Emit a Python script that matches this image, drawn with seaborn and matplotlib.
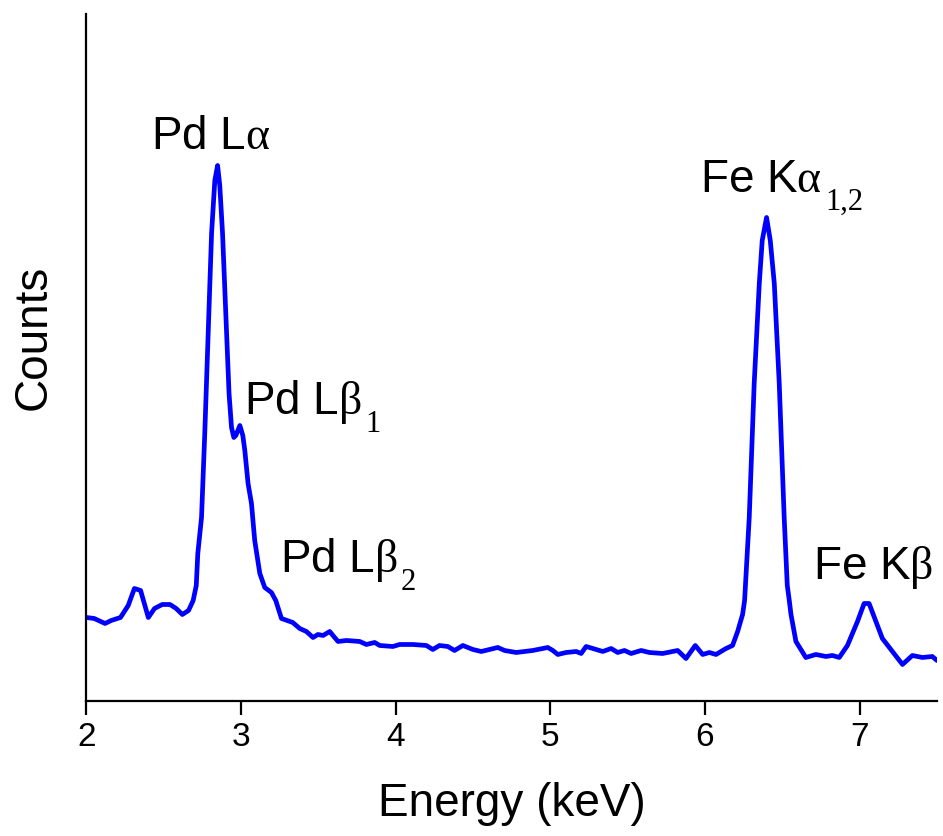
import matplotlib
matplotlib.use("Agg")
import matplotlib.pyplot as plt
import seaborn as sns
import pandas as pd

# EDS spectrum (energy in keV, counts in arbitrary units)
energy_kev = [
    2.00, 2.05, 2.12, 2.16, 2.22, 2.27, 2.31, 2.35, 2.40, 2.44,
    2.49, 2.54, 2.58, 2.62, 2.66, 2.69, 2.71, 2.72, 2.744, 2.765,
    2.787, 2.809, 2.83, 2.848, 2.862, 2.88, 2.906, 2.922, 2.938, 2.953,
    2.966, 2.992, 3.011, 3.024, 3.045, 3.067, 3.088, 3.121, 3.153, 3.196,
    3.224, 3.261, 3.334, 3.379, 3.422, 3.465, 3.497, 3.530, 3.573, 3.594,
    3.627, 3.681, 3.767, 3.810, 3.864, 3.896, 3.982, 4.025, 4.111, 4.198,
    4.240, 4.283, 4.337, 4.380, 4.434, 4.499, 4.553, 4.607, 4.660, 4.704,
    4.779, 4.886, 4.983, 5.016, 5.048, 5.102, 5.167, 5.199, 5.231, 5.274,
    5.339, 5.393, 5.435, 5.479, 5.522, 5.587, 5.640, 5.726, 5.823, 5.877,
    5.937, 5.985, 6.028, 6.071, 6.136, 6.178, 6.211, 6.243, 6.256, 6.286,
    6.318, 6.351, 6.37, 6.398, 6.422, 6.448, 6.48, 6.512, 6.532, 6.545,
    6.556, 6.588, 6.652, 6.717, 6.782, 6.824, 6.868, 6.921, 6.986, 7.029,
    7.061, 7.105, 7.147, 7.212, 7.277, 7.341, 7.406, 7.470, 7.50,
]
counts = [
    84, 83, 78, 81, 84, 96, 113, 111, 84, 93,
    97, 97, 93, 87, 91, 101, 116, 148, 184, 268,
    368, 468, 521, 536, 516, 468, 368, 308, 274, 264,
    266, 276, 266, 251, 218, 198, 161, 128, 114, 109,
    101, 83, 79, 73, 70, 64, 67, 66, 70, 66,
    60, 61, 60, 57, 59, 56, 55, 57, 57, 56,
    52, 56, 55, 51, 56, 52, 50, 52, 54, 51,
    49, 51, 54, 51, 47, 49, 50, 48, 55, 53,
    50, 53, 49, 51, 48, 51, 49, 48, 51, 43,
    56, 47, 49, 47, 53, 56, 70, 87, 101, 184,
    318, 418, 461, 484, 461, 418, 318, 184, 116, 101,
    87, 60, 44, 47, 45, 46, 44, 56, 80, 98,
    98, 80, 63, 50, 37, 46, 44, 45, 41,
]

# Peak annotations: main label, subscript, energy and counts of the baseline
peak_labels = [r"Pd L$\mathrm{\alpha}$", r"Pd L$\mathrm{\beta}$",
               r"Pd L$\mathrm{\beta}$", r"Fe K$\mathrm{\alpha}$",
               r"Fe K$\mathrm{\beta}$"]
peak_subscripts = ["", "1", "2", "1,2", ""]
label_energy = [2.42, 3.02, 3.25, 5.965, 6.70]
label_counts = [552, 287, 129, 509, 122]

x_ticks = [2, 3, 4, 5, 6, 7]

sns.set_style("ticks")
plt.rcParams["font.family"] = ["Liberation Sans", "DejaVu Sans"]
plt.rcParams["mathtext.fontset"] = "custom"
plt.rcParams["mathtext.rm"] = "Liberation Serif"
plt.rcParams["mathtext.it"] = "Liberation Serif:italic"
plt.rcParams["mathtext.bf"] = "Liberation Serif:bold"

df = pd.DataFrame({"Energy": energy_kev, "Counts": counts})

fig = plt.figure(figsize=(9.43, 8.36), dpi=100)
ax = fig.add_axes([0.0917, 0.1609, 0.9019, 0.8224])

sns.lineplot(data=df, x="Energy", y="Counts", ax=ax, color="#0000ff",
             linewidth=3.4, estimator=None, sort=False,
             solid_joinstyle="round", solid_capstyle="round")

for text, sub, ex, cy in zip(peak_labels, peak_subscripts,
                             label_energy, label_counts):
    t = ax.text(ex, cy, text, fontsize=33, ha="left", va="baseline",
                color="black")
    if sub:
        # subscript sits just right of the main label, below its baseline
        ax.annotate(sub, xy=(1, cy), xycoords=(t, "data"),
                    xytext=(2.5, -12.5), textcoords="offset points",
                    ha="left", va="baseline", fontsize=22,
                    family="Liberation Serif", color="black")

ax.set_xlim(2, 7.5)
ax.set_ylim(0, 687.5)
ax.set_xticks(x_ticks)
ax.set_xticklabels([str(t) for t in x_ticks])
ax.set_yticks([])

ax.tick_params(axis="x", direction="out", length=10, width=1.6,
               labelsize=24, pad=5, color="black", labelcolor="black")
for side in ("left", "bottom"):
    ax.spines[side].set_linewidth(1.6)
    ax.spines[side].set_color("black")
sns.despine(ax=ax)

ax.set_xlabel("Energy (keV)", fontsize=33, color="black")
ax.set_ylabel("Counts", fontsize=33, color="black")
ax.xaxis.set_label_coords(0.5, -0.117)
ax.yaxis.set_label_coords(-0.036, 0.53)

fig.savefig("out.png", dpi=100)
